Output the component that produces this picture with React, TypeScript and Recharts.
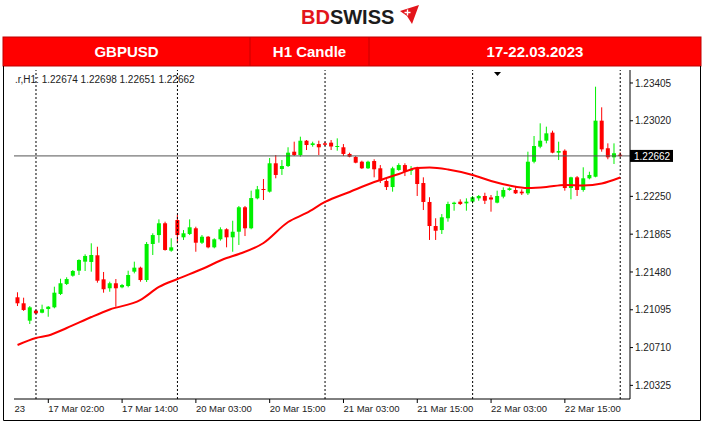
import { ComposedChart, Bar, Line, XAxis, YAxis, ReferenceLine } from "recharts";

// GBPUSD H1 candles, 16 Mar 21:00 .. 23 Mar 00:00
const open = [
  1.21222, 1.21161, 1.20984, 1.21086, 1.21065, 1.21103, 1.2112, 1.21256, 1.21358, 1.21442,
  1.21493, 1.21585, 1.21582, 1.2165, 1.21405, 1.21314, 1.21365, 1.21324, 1.21337, 1.21483,
  1.21524, 1.21398, 1.21765, 1.21856, 1.21976, 1.21697, 1.22009, 1.21833, 1.21867, 1.21925,
  1.21778, 1.21839, 1.21731, 1.21813, 1.21915, 1.21833, 1.2189, 1.22139, 1.21925, 1.2223,
  1.22325, 1.22298, 1.22587, 1.22529, 1.22559, 1.22705, 1.22671, 1.22817, 1.22773, 1.22783,
  1.2279, 1.22797, 1.22756, 1.2275, 1.22682, 1.22651, 1.22603, 1.22536, 1.2261, 1.22536,
  1.22407, 1.22345, 1.22519, 1.22569, 1.22511, 1.22536, 1.22386, 1.22193, 1.21948, 1.21907,
  1.22027, 1.22172, 1.22196, 1.22179, 1.22196, 1.2223, 1.22254, 1.22239, 1.22186, 1.22247,
  1.22315, 1.22315, 1.22298, 1.22281, 1.22603, 1.22756, 1.22817, 1.22899, 1.22695, 1.22715,
  1.22335, 1.22444, 1.22315, 1.22434, 1.2245, 1.23021, 1.2274, 1.22648, 1.22674,
];
const high = [
  1.21273, 1.21218, 1.21133, 1.21093, 1.21147, 1.21133, 1.2133, 1.21411, 1.21426, 1.215,
  1.21609, 1.2166, 1.21772, 1.21737, 1.2148, 1.21381, 1.21408, 1.21358, 1.21493, 1.21585,
  1.21534, 1.21785, 1.21874, 1.22016, 1.21992, 1.21823, 1.2206, 1.21907, 1.22016, 1.21941,
  1.21856, 1.21846, 1.21823, 1.21935, 1.21925, 1.22002, 1.22152, 1.22152, 1.22308, 1.22356,
  1.22427, 1.22641, 1.22671, 1.2262, 1.2275, 1.22807, 1.22858, 1.22824, 1.22807, 1.22817,
  1.22804, 1.22824, 1.22841, 1.22783, 1.22695, 1.22661, 1.22613, 1.22613, 1.22628, 1.22569,
  1.22424, 1.22552, 1.22587, 1.22587, 1.22559, 1.22552, 1.22444, 1.22241, 1.22027, 1.2207,
  1.22196, 1.22196, 1.2222, 1.2223, 1.22254, 1.22264, 1.22287, 1.22264, 1.22308, 1.22342,
  1.22342, 1.22356, 1.22322, 1.22705, 1.22865, 1.22994, 1.2296, 1.22919, 1.22807, 1.22729,
  1.2245, 1.22457, 1.22546, 1.22501, 1.23367, 1.23157, 1.2279, 1.2279, 1.22698,
];
const low = [
  1.21133, 1.21083, 1.2095, 1.21052, 1.21059, 1.21024, 1.2111, 1.21245, 1.21347, 1.21432,
  1.21449, 1.2149, 1.21483, 1.21371, 1.21269, 1.21279, 1.21126, 1.21314, 1.21324, 1.21466,
  1.21381, 1.21378, 1.21653, 1.21778, 1.21697, 1.21686, 1.21772, 1.21806, 1.21856, 1.21686,
  1.21765, 1.21721, 1.21721, 1.21799, 1.21731, 1.21686, 1.21755, 1.21846, 1.21915, 1.2222,
  1.22213, 1.22289, 1.22434, 1.22468, 1.22549, 1.22661, 1.22654, 1.22722, 1.22756, 1.22671,
  1.22763, 1.22722, 1.22715, 1.22661, 1.22648, 1.22587, 1.22529, 1.22529, 1.22444, 1.22386,
  1.22315, 1.22298, 1.22511, 1.22457, 1.22468, 1.22254, 1.22111, 1.21806, 1.21806, 1.21867,
  1.21992, 1.22104, 1.22162, 1.22104, 1.22179, 1.22206, 1.22172, 1.22094, 1.22179, 1.2223,
  1.22308, 1.22274, 1.22264, 1.22264, 1.22587, 1.2274, 1.2279, 1.22689, 1.2262, 1.22308,
  1.2222, 1.22254, 1.22298, 1.22424, 1.22444, 1.22705, 1.22628, 1.2258, 1.22651,
];
const close = [
  1.21161, 1.21093, 1.2112, 1.21059, 1.211, 1.21126, 1.21269, 1.21365, 1.21408, 1.2149,
  1.21602, 1.21643, 1.21653, 1.21391, 1.21304, 1.21365, 1.21314, 1.21347, 1.21449, 1.21524,
  1.21398, 1.21765, 1.21856, 1.21976, 1.21704, 1.21731, 1.21856, 1.21874, 1.21935, 1.21778,
  1.21839, 1.21731, 1.21813, 1.21915, 1.21833, 1.2189, 1.22139, 1.21925, 1.22233, 1.22322,
  1.22315, 1.22587, 1.22468, 1.22559, 1.22695, 1.22671, 1.22817, 1.22773, 1.2279, 1.2275,
  1.22776, 1.22758, 1.22763, 1.22682, 1.22654, 1.22593, 1.22536, 1.22603, 1.22526, 1.22407,
  1.22345, 1.22536, 1.22569, 1.22501, 1.22526, 1.22376, 1.22193, 1.21948, 1.219, 1.22037,
  1.22172, 1.22186, 1.22172, 1.22196, 1.22241, 1.22254, 1.22206, 1.22218, 1.22254, 1.22315,
  1.22332, 1.22281, 1.22281, 1.22603, 1.22763, 1.22817, 1.22892, 1.22695, 1.22712, 1.22335,
  1.22444, 1.22315, 1.22434, 1.22468, 1.23021, 1.22729, 1.22648, 1.22689, 1.22662,
];

// moving average, read at a few bars
const maIdx = [0, 3, 5, 8, 12, 15, 20, 23, 26, 30, 34, 36, 40, 44, 47, 50, 54, 58, 62, 65, 67, 70, 74, 77, 80, 83, 86, 89, 92, 95, 98];
const maVal = [
  1.20736, 1.20808, 1.20833, 1.20909, 1.21021, 1.21098, 1.21195, 1.21327, 1.21408, 1.2151,
  1.21622, 1.21663, 1.21775, 1.21989, 1.22081, 1.22193, 1.22295, 1.22396, 1.22478, 1.22539,
  1.22544, 1.22524, 1.22468, 1.22407, 1.22361, 1.22335, 1.22345, 1.22366, 1.22361, 1.22381,
  1.22442,
];

// 1.22635 sits under the price tag, so it is left out
const priceTicks = [1.20325, 1.2071, 1.21095, 1.2148, 1.21865, 1.2225, 1.2302, 1.23405];
const xTickIdx = [0, 5, 17, 29, 41, 53, 65, 77, 89];
const xTickLabels = ["23", "17 Mar 02:00", "17 Mar 14:00", "20 Mar 03:00", "20 Mar 15:00", "21 Mar 03:00", "21 Mar 15:00", "22 Mar 03:00", "22 Mar 15:00"];
const separatorIdx = [3, 26, 50, 74, 98];
const headerCells = ["GBPUSD", "H1 Candle", "17-22.03.2023"];

const candles = open.map((o, i) => ({ i, o, h: high[i], l: low[i], c: close[i] }));
const maData = maIdx.map((i, k) => ({ i, ma: maVal[k] }));
const last = candles[candles.length - 1];

const BULL = "#00f000";
const BEAR = "#ff0000";
const FONT = "'Liberation Sans', Arial, sans-serif";

function Candle(props: any) {
  const { x, y, width, height, payload } = props;
  if (!payload || height == null) return null;
  const { o, h, l, c } = payload;
  const cx = x + width / 2;
  const k = h > l ? height / (h - l) : 0;
  const top = y + (h - Math.max(o, c)) * k;
  const bh = Math.max(1, Math.abs(o - c) * k);
  const color = c >= o ? BULL : BEAR;
  return (
    <g>
      <line x1={cx} x2={cx} y1={y} y2={y + height} stroke={color} strokeWidth={1} />
      <rect x={cx - 2} y={top} width={4} height={bh} fill={color} />
    </g>
  );
}

function XTick(props: any) {
  const { x, y, payload } = props;
  const k = xTickIdx.indexOf(payload.value);
  if (k < 0) return null;
  const first = k === 0;
  return (
    <g>
      {!first && <line x1={x} x2={x} y1={y} y2={y + 4} stroke="#000" />}
      <text x={first ? x - 3 : x} y={y + 13} fontSize={9.5} fill="#222" fontFamily={FONT}>
        {xTickLabels[k]}
      </text>
    </g>
  );
}

function PriceTag(props: any) {
  const vb = props.viewBox || {};
  const x = (vb.x || 0) + (vb.width || 0);
  const y = vb.y || 0;
  return (
    <g>
      <rect x={x} y={y - 6} width={43} height={12} fill="#000" />
      <text x={x + 4} y={y + 4} fontSize={10} fill="#fff" fontFamily={FONT}>
        {last.c.toFixed(5)}
      </text>
    </g>
  );
}

export default function App() {
  const cellEdges = [3, 250, 369, 701];
  return (
    <div style={{ position: "absolute", left: 0, top: 0, width: 703, height: 424, background: "#fff" }}>
      <ComposedChart
        width={703}
        height={424}
        data={candles}
        margin={{ top: 70, right: 23, left: 14, bottom: 0 }}
      >
        <XAxis
          dataKey="i"
          type="number"
          domain={[-0.577, 99.59]}
          allowDataOverflow
          ticks={xTickIdx}
          interval={0}
          height={25}
          tickSize={0}
          tickMargin={0}
          tickLine={false}
          axisLine={{ stroke: "#000" }}
          tick={(p: any) => <XTick {...p} />}
        />
        <YAxis
          orientation="right"
          type="number"
          domain={[1.201862, 1.235371]}
          allowDataOverflow
          ticks={priceTicks}
          interval={0}
          width={50}
          tickSize={3}
          tickMargin={2}
          tickFormatter={(v: number) => v.toFixed(5)}
          tick={{ fontSize: 10, fill: "#222", fontFamily: FONT, textAnchor: "start" }}
          axisLine={{ stroke: "#000" }}
          tickLine={{ stroke: "#000" }}
        />
        {separatorIdx.map((s) => (
          <ReferenceLine key={s} x={s} stroke="#000" strokeDasharray="2 2" strokeWidth={1} />
        ))}
        <ReferenceLine y={last.c} stroke="#555" strokeWidth={1} label={(p: any) => <PriceTag {...p} />} />
        <Line
          data={maData}
          dataKey="ma"
          type="monotone"
          stroke="#ff0000"
          strokeWidth={2}
          dot={false}
          isAnimationActive={false}
        />
        <Bar
          dataKey={(d: any) => [d.l, d.h]}
          barSize={4}
          shape={(p: any) => <Candle {...p} />}
          isAnimationActive={false}
        />
      </ComposedChart>

      <svg
        width={703}
        height={424}
        style={{ position: "absolute", left: 0, top: 0, pointerEvents: "none" }}
      >
        {/* logo */}
        <text x={301} y={23.5} fontFamily={FONT} fontWeight="bold" fontSize={20}>
          <tspan fill="#e3151b">BD</tspan>
          <tspan fill="#1c1c1c">SWISS</tspan>
        </text>
        <polygon points="400,11 419,5 412,24 407,16" fill="#e3151b" />
        <path d="M407.5 9.5 v6 M404.5 12.5 h6" stroke="#fff" strokeWidth={1.4} />

        {/* header band */}
        <rect x={3} y={37} width={698} height={29} fill="#ff0000" stroke="#c00000" strokeWidth={1} />
        {cellEdges.slice(1, -1).map((e) => (
          <line key={e} x1={e} x2={e} y1={37} y2={66} stroke="#c80000" />
        ))}
        {headerCells.map((t, k) => (
          <text
            key={t}
            x={(cellEdges[k] + cellEdges[k + 1]) / 2}
            y={57.3}
            textAnchor="middle"
            fill="#fff"
            fontFamily={FONT}
            fontWeight="bold"
            fontSize={15}
          >
            {t}
          </text>
        ))}

        {/* info line */}
        <text x={15} y={82.5} fontSize={10} fill="#222" fontFamily={FONT}>
          {`.r,H1: ${last.o.toFixed(5)} ${last.h.toFixed(5)} ${last.l.toFixed(5)} ${last.c.toFixed(5)}`}
        </text>
        <polygon points="494,72 501,72 497.5,76" fill="#000" />

        {/* frame */}
        <path d="M3.5 66 V420.5 H700.5 V66" fill="none" stroke="#000" strokeWidth={1} />
      </svg>
    </div>
  );
}
